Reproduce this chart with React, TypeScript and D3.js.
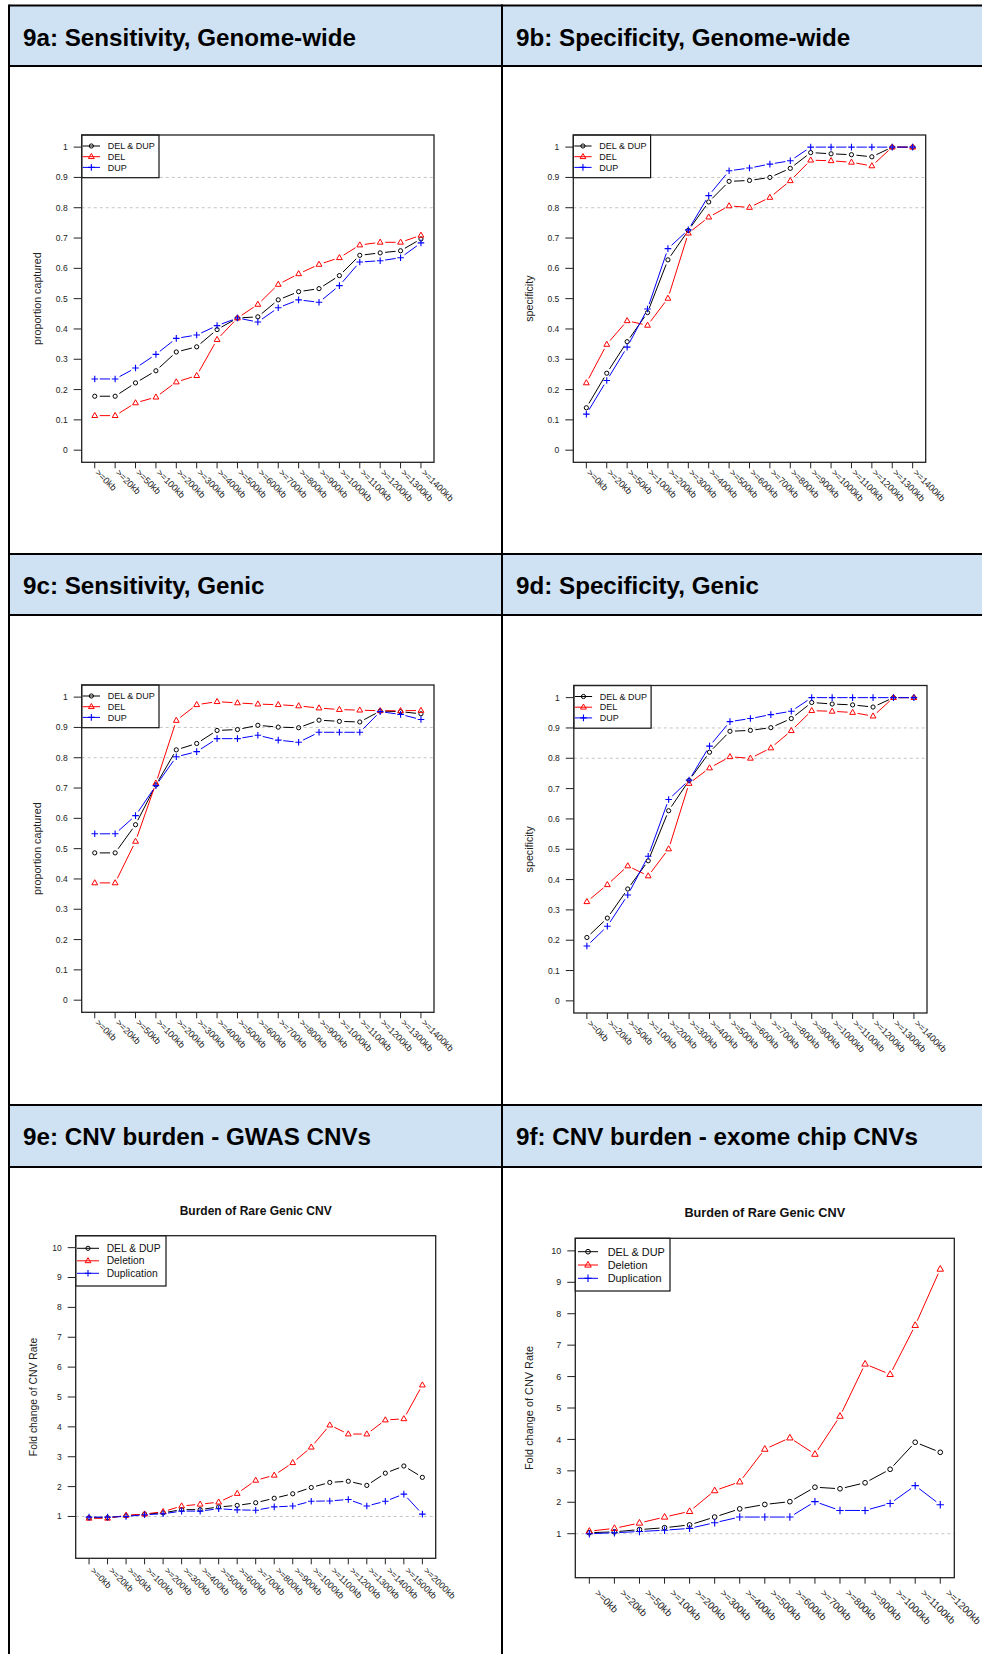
import React from "react";
import * as d3 from "d3";

// x categories
const sizeLabels = [">=0kb", ">=20kb", ">=50kb", ">=100kb", ">=200kb", ">=300kb", ">=400kb", ">=500kb", ">=600kb", ">=700kb", ">=800kb", ">=900kb", ">=1000kb", ">=1100kb", ">=1200kb", ">=1300kb", ">=1400kb"];
const gwasLabels = [">=0kb", ">=20kb", ">=50kb", ">=100kb", ">=200kb", ">=300kb", ">=400kb", ">=500kb", ">=600kb", ">=700kb", ">=800kb", ">=900kb", ">=1000kb", ">=1100kb", ">=1200kb", ">=1300kb", ">=1400kb", ">=1500kb", ">=2000kb"];
const exomeLabels = [">=0kb", ">=20kb", ">=50kb", ">=100kb", ">=200kb", ">=300kb", ">=400kb", ">=500kb", ">=600kb", ">=700kb", ">=800kb", ">=900kb", ">=1000kb", ">=1100kb", ">=1200kb"];

const propTicks = [0, 0.1, 0.2, 0.3, 0.4, 0.5, 0.6, 0.7, 0.8, 0.9, 1];
const foldTicks = [1, 2, 3, 4, 5, 6, 7, 8, 9, 10];

const cnvNames = ["DEL & DUP", "DEL", "DUP"];
const burdenNames = ["DEL & DUP", "Deletion", "Duplication"];
const seriesColors = ["#000000", "#ff0000", "#0000ff"];

// 9a sensitivity genome-wide
const sensGenomeBoth = [0.178, 0.178, 0.222, 0.262, 0.324, 0.341, 0.398, 0.436, 0.44, 0.496, 0.523, 0.533, 0.576, 0.643, 0.651, 0.658, 0.697];
const sensGenomeDel = [0.114, 0.114, 0.156, 0.175, 0.225, 0.246, 0.365, 0.436, 0.481, 0.547, 0.582, 0.613, 0.635, 0.677, 0.686, 0.686, 0.709];
const sensGenomeDup = [0.235, 0.235, 0.271, 0.316, 0.369, 0.38, 0.411, 0.436, 0.423, 0.47, 0.496, 0.488, 0.543, 0.621, 0.625, 0.635, 0.684];

// 9b specificity genome-wide
const specGenomeBoth = [0.14, 0.254, 0.358, 0.454, 0.628, 0.725, 0.819, 0.887, 0.89, 0.9, 0.93, 0.982, 0.978, 0.975, 0.968, 1, 1];
const specGenomeDel = [0.222, 0.349, 0.427, 0.412, 0.501, 0.716, 0.769, 0.806, 0.801, 0.834, 0.889, 0.957, 0.955, 0.95, 0.938, 1, 1];
const specGenomeDup = [0.119, 0.23, 0.34, 0.466, 0.665, 0.727, 0.84, 0.922, 0.931, 0.944, 0.955, 1, 1, 1, 1, 1, 1];

// 9c sensitivity genic
const sensGenicBoth = [0.486, 0.486, 0.579, 0.71, 0.826, 0.847, 0.89, 0.893, 0.907, 0.901, 0.899, 0.924, 0.92, 0.918, 0.954, 0.952, 0.945];
const sensGenicDel = [0.387, 0.387, 0.524, 0.716, 0.923, 0.975, 0.985, 0.981, 0.977, 0.975, 0.971, 0.964, 0.959, 0.957, 0.955, 0.955, 0.956];
const sensGenicDup = [0.549, 0.549, 0.609, 0.708, 0.803, 0.82, 0.863, 0.863, 0.874, 0.858, 0.851, 0.884, 0.884, 0.884, 0.952, 0.943, 0.926];

// 9d specificity genic
const specGenicBoth = [0.209, 0.273, 0.369, 0.462, 0.627, 0.727, 0.82, 0.889, 0.892, 0.901, 0.931, 0.984, 0.979, 0.976, 0.969, 1, 1];
const specGenicDel = [0.327, 0.383, 0.445, 0.412, 0.501, 0.717, 0.768, 0.805, 0.8, 0.834, 0.891, 0.957, 0.955, 0.951, 0.939, 1, 1];
const specGenicDup = [0.181, 0.246, 0.349, 0.477, 0.664, 0.728, 0.84, 0.921, 0.931, 0.944, 0.955, 1, 1, 1, 1, 1, 1];

// 9e burden, GWAS CNVs
const gwasBoth = [0.96, 0.96, 1.02, 1.08, 1.12, 1.23, 1.23, 1.32, 1.37, 1.46, 1.61, 1.76, 1.97, 2.14, 2.18, 2.04, 2.45, 2.69, 2.31];
const gwasDel = [0.94, 0.94, 1.04, 1.08, 1.16, 1.35, 1.41, 1.48, 1.77, 2.21, 2.38, 2.8, 3.32, 4.06, 3.76, 3.76, 4.23, 4.27, 5.4];
const gwasDup = [0.98, 0.98, 1.0, 1.06, 1.09, 1.18, 1.18, 1.26, 1.22, 1.21, 1.32, 1.35, 1.51, 1.52, 1.57, 1.35, 1.51, 1.75, 1.08];

// 9f burden, exome chip CNVs
const exomeBoth = [1.03, 1.06, 1.13, 1.19, 1.28, 1.53, 1.79, 1.93, 2.02, 2.48, 2.43, 2.62, 3.05, 3.91, 3.59];
const exomeDel = [1.08, 1.17, 1.34, 1.53, 1.71, 2.37, 2.65, 3.69, 4.05, 3.53, 4.74, 6.4, 6.07, 7.63, 9.42];
const exomeDup = [1.0, 1.03, 1.07, 1.11, 1.17, 1.35, 1.53, 1.53, 1.53, 2.02, 1.74, 1.74, 1.96, 2.53, 1.92];

const FONT = "'Liberation Sans', Arial, Helvetica, sans-serif";

const Marker = ({ kind, x, y, color, s }) => {
  if (kind === 0) return <circle cx={x} cy={y} r={2.1 * s} fill="none" stroke={color} strokeWidth={1} />;
  if (kind === 1) {
    const h = 2.9 * s;
    return <path d={`M${x},${y - h * 1.1}L${x + h},${y + h * 0.65}L${x - h},${y + h * 0.65}Z`} fill="none" stroke={color} strokeWidth={1} />;
  }
  const p = 3.3 * s;
  return <path d={`M${x - p},${y}H${x + p}M${x},${y - p}V${y + p}`} stroke={color} strokeWidth={1.1} />;
};

const Panel = (props) => {
  const { left, right, top, bottom, ymax, labels, series, names, ticks, grid, ylab, ylabX, title, f, leg, xlab, ms } = props;
  const n = labels.length;
  const ypad = ymax * 0.04;
  const xpad = (n - 1) * 0.04;
  const x = d3.scaleLinear().domain([1 - xpad, n + xpad]).range([left, right]);
  const y = d3.scaleLinear().domain([-ypad, ymax + ypad]).range([bottom, top]);
  const gap = 5;

  // type="b" style: segments stop short of the points
  const segs = (vals) => {
    const out = [];
    for (let i = 0; i < vals.length - 1; i++) {
      const x1 = x(i + 1), y1 = y(vals[i]), x2 = x(i + 2), y2 = y(vals[i + 1]);
      const len = Math.hypot(x2 - x1, y2 - y1);
      if (len <= 2 * gap) continue;
      const ux = (x2 - x1) / len, uy = (y2 - y1) / len;
      out.push([x1 + ux * gap, y1 + uy * gap, x2 - ux * gap, y2 - uy * gap]);
    }
    return out;
  };

  const tickFmt = d3.format("");
  const midY = (top + bottom) / 2;

  return (
    <g fontFamily={FONT}>
      {title && (
        <text x={(left + right) / 2} y={top - 21} textAnchor="middle" fontWeight="bold" fontSize={f.title} fill="#111">{title}</text>
      )}
      {grid.map((g) => (
        <line key={"g" + g} x1={left} x2={right} y1={y(g)} y2={y(g)} stroke="#c4c4c4" strokeDasharray="3,3" strokeWidth={1} />
      ))}
      {series.map((vals, si) => (
        <g key={"s" + si}>
          {segs(vals).map((s, i) => (
            <line key={i} x1={s[0]} y1={s[1]} x2={s[2]} y2={s[3]} stroke={seriesColors[si]} strokeWidth={1} />
          ))}
          {vals.map((v, i) => (
            <Marker key={"m" + i} kind={si} x={x(i + 1)} y={y(v)} color={seriesColors[si]} s={ms} />
          ))}
        </g>
      ))}
      <rect x={left} y={top} width={leg.w} height={leg.h} fill="white" stroke="#111" strokeWidth={1.2} />
      {names.map((nm, i) => {
        const ry = top + leg.y0 + i * leg.dy;
        return (
          <g key={"l" + i}>
            <line x1={left + leg.l0} x2={left + leg.l1} y1={ry} y2={ry} stroke={seriesColors[i]} strokeWidth={1} />
            <Marker kind={i} x={left + (leg.l0 + leg.l1) / 2} y={ry} color={seriesColors[i]} s={ms} />
            <text x={left + leg.tx} y={ry} dy="0.35em" fontSize={f.leg} fill="#111">{nm}</text>
          </g>
        );
      })}
      <rect x={left} y={top} width={right - left} height={bottom - top} fill="none" stroke="#222" strokeWidth={1.3} />
      {ticks.map((t) => (
        <g key={"t" + t}>
          <line x1={left - 8} x2={left} y1={y(t)} y2={y(t)} stroke="#222" strokeWidth={1} />
          <text x={left - 14} y={y(t)} dy="0.35em" textAnchor="end" fontSize={f.tick} fill="#222">{tickFmt(t)}</text>
        </g>
      ))}
      {labels.map((lb, i) => (
        <g key={"x" + i}>
          <line x1={x(i + 1)} x2={x(i + 1)} y1={bottom} y2={bottom + 6} stroke="#222" strokeWidth={1} />
          <text transform={`translate(${x(i + 1) + xlab.dx},${bottom + xlab.dy}) rotate(45)`} fontSize={f.xlab} fill="#222">{lb}</text>
        </g>
      ))}
      <text transform={`translate(${ylabX},${midY}) rotate(-90)`} dy="0.35em" textAnchor="middle" fontSize={f.lab} fill="#222">{ylab}</text>
    </g>
  );
};

const smallFonts = { tick: 8.5, lab: 10.7, leg: 9, xlab: 9.2, title: 12 };
const smallLeg = { w: 77.3, h: 42.7, y0: 11, dy: 10.7, l0: 1, l1: 18.3, tx: 26 };

const headers = [
  { y: 5.5, h: 60.5, a: "9a: Sensitivity, Genome-wide", b: "9b: Specificity, Genome-wide" },
  { y: 554, h: 61, a: "9c: Sensitivity, Genic", b: "9d: Specificity, Genic" },
  { y: 1105, h: 62, a: "9e: CNV burden - GWAS CNVs", b: "9f: CNV burden - exome chip CNVs" },
];

export default function App() {
  const W = 982, H = 1654;
  const tableLeft = 9, mid = 502;
  return (
    <svg width={W} height={H} style={{ position: "absolute", left: 0, top: 0, background: "white" }}>
      <rect x={0} y={0} width={W} height={H} fill="white" />
      {headers.map((h, i) => (
        <g key={"h" + i}>
          <rect x={tableLeft} y={h.y} width={W - tableLeft + 10} height={h.h} fill="#cfe2f3" />
          <text x={23} y={h.y + 40} fontFamily={FONT} fontWeight="bold" fontSize={24.2} fill="#000">{h.a}</text>
          <text x={516} y={h.y + 40} fontFamily={FONT} fontWeight="bold" fontSize={24.2} fill="#000">{h.b}</text>
          <line x1={tableLeft} x2={W + 5} y1={h.y} y2={h.y} stroke="#000" strokeWidth={2} />
          <line x1={tableLeft} x2={W + 5} y1={h.y + h.h} y2={h.y + h.h} stroke="#000" strokeWidth={2} />
        </g>
      ))}
      <line x1={tableLeft} x2={tableLeft} y1={4.5} y2={H + 5} stroke="#000" strokeWidth={2} />
      <line x1={mid} x2={mid} y1={4.5} y2={H + 5} stroke="#000" strokeWidth={2} />

      <Panel left={81.7} right={434} top={135} bottom={462.3} ymax={1} labels={sizeLabels}
        series={[sensGenomeBoth, sensGenomeDel, sensGenomeDup]} names={cnvNames} ticks={propTicks} grid={[0.8, 0.9]}
        ylab="proportion captured" ylabX={37} f={smallFonts} leg={smallLeg} xlab={{ dx: 0, dy: 11 }} ms={1} />
      <Panel left={573.3} right={925.7} top={135} bottom={462.3} ymax={1} labels={sizeLabels}
        series={[specGenomeBoth, specGenomeDel, specGenomeDup]} names={cnvNames} ticks={propTicks} grid={[0.8, 0.9]}
        ylab="specificity" ylabX={529.5} f={smallFonts} leg={smallLeg} xlab={{ dx: 0, dy: 11 }} ms={1} />
      <Panel left={81.7} right={434} top={685} bottom={1012.3} ymax={1} labels={sizeLabels}
        series={[sensGenicBoth, sensGenicDel, sensGenicDup]} names={cnvNames} ticks={propTicks} grid={[0.8, 0.9]}
        ylab="proportion captured" ylabX={37} f={smallFonts} leg={smallLeg} xlab={{ dx: 0, dy: 11 }} ms={1} />
      <Panel left={573.8} right={927} top={685.5} bottom={1013} ymax={1} labels={sizeLabels}
        series={[specGenicBoth, specGenicDel, specGenicDup]} names={cnvNames} ticks={propTicks} grid={[0.8, 0.9]}
        ylab="specificity" ylabX={529.5} f={smallFonts} leg={smallLeg} xlab={{ dx: 0, dy: 11 }} ms={1} />
      <Panel left={75.7} right={435.7} top={1235.7} bottom={1558.3} ymax={10} labels={gwasLabels}
        series={[gwasBoth, gwasDel, gwasDup]} names={burdenNames} ticks={foldTicks} grid={[1]}
        ylab="Fold change of CNV Rate" ylabX={33.7} title="Burden of Rare Genic CNV"
        f={{ tick: 8.5, lab: 10.4, leg: 10.3, xlab: 9, title: 12 }}
        leg={{ w: 90.3, h: 50.3, y0: 12.6, dy: 12.5, l0: 1.3, l1: 23.3, tx: 31 }} xlab={{ dx: 1, dy: 13 }} ms={1} />
      <Panel left={575.3} right={954.3} top={1238.3} bottom={1577.7} ymax={10} labels={exomeLabels}
        series={[exomeBoth, exomeDel, exomeDup]} names={burdenNames} ticks={foldTicks} grid={[1]}
        ylab="Fold change of CNV Rate" ylabX={529.5} title="Burden of Rare Genic CNV"
        f={{ tick: 9, lab: 10.9, leg: 10.9, xlab: 10, title: 12.7 }}
        leg={{ w: 94.7, h: 52.7, y0: 13.4, dy: 13.3, l0: 2.7, l1: 22.7, tx: 32.4 }} xlab={{ dx: 5, dy: 16 }} ms={1.12} />
    </svg>
  );
}
